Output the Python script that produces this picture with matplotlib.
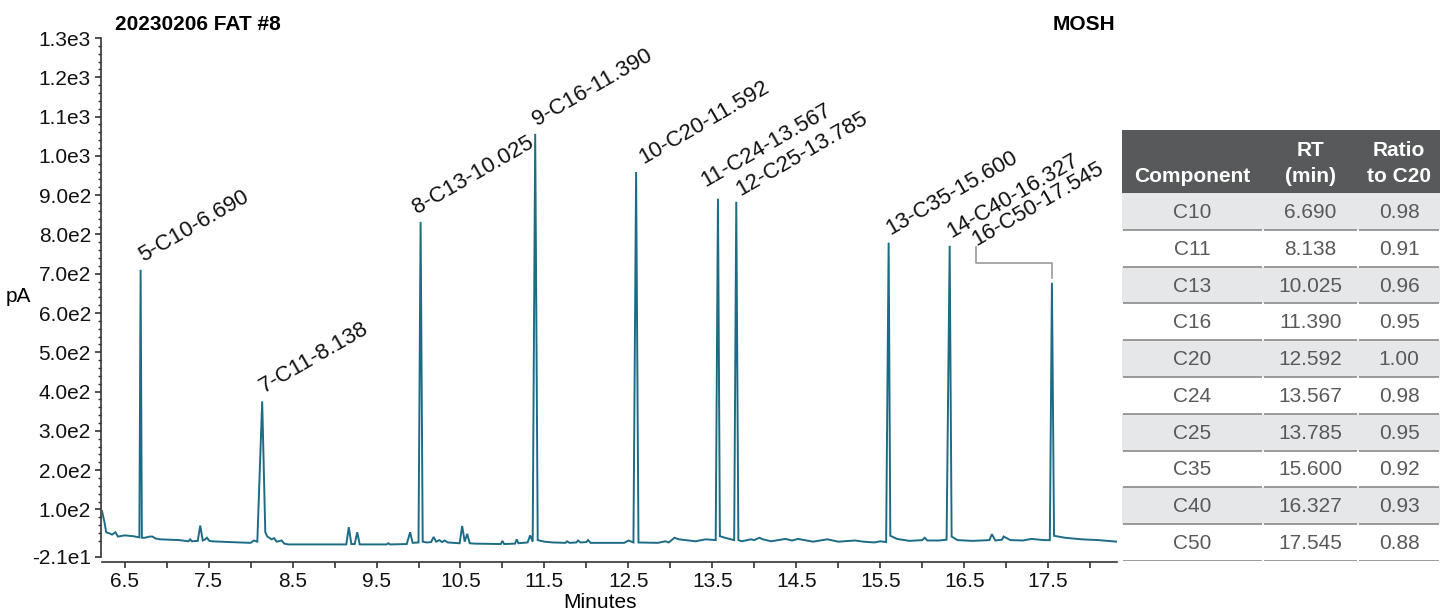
import numpy as np
import matplotlib
matplotlib.use("Agg")
import matplotlib.pyplot as plt
from matplotlib.patches import Rectangle
from matplotlib.ticker import FixedLocator, FuncFormatter

plt.rcParams['font.family'] = ['Liberation Sans', 'DejaVu Sans']

sample = "20230206 FAT #8"
fraction = "MOSH"

# labelled alkane peaks
peak_no = [5, 7, 8, 9, 10, 11, 12, 13, 14, 16]
components = ["C10", "C11", "C13", "C16", "C20", "C24", "C25", "C35", "C40", "C50"]
rt = [6.690, 8.138, 10.025, 11.390, 12.592, 13.567, 13.785, 15.600, 16.327, 17.545]
ratio_c20 = [0.98, 0.91, 0.96, 0.95, 1.00, 0.98, 0.95, 0.92, 0.93, 0.88]
peak_height = [710, 375, 832, 1056, 959, 891, 883, 779, 771, 677]
peak_labels = ["5-C10-6.690", "7-C11-8.138", "8-C13-10.025", "9-C16-11.390",
               "10-C20-11.592", "11-C24-13.567", "12-C25-13.785", "13-C35-15.600",
               "14-C40-16.327", "16-C50-17.545"]

# small unlabelled peaks (min, pA)
minor_t = [7.40, 9.17, 9.27, 9.90, 10.18, 10.52, 10.58]
minor_h = [59, 55, 42, 42, 30, 58, 38]

# baseline trace between the peaks (min, pA)
base_t = [6.23, 6.26, 6.28, 6.32, 6.35, 6.39, 6.42, 6.50, 6.60, 6.675,
          6.705, 6.74, 6.80, 6.83, 6.87, 6.92, 7.15, 7.26, 7.28, 7.30, 7.37,
          7.43, 7.46, 7.48, 7.51, 7.54, 7.75, 8.00, 8.04, 8.08,
          8.175, 8.20, 8.25, 8.28, 8.31, 8.37, 8.40, 8.45, 9.14,
          9.20, 9.24, 9.30, 9.62, 9.64, 9.66, 9.86,
          9.93, 10.00, 10.05, 10.10, 10.15,
          10.21, 10.25, 10.28, 10.31, 10.35, 10.49,
          10.55, 10.61, 10.67, 10.98, 11.00, 11.02, 11.15, 11.17, 11.19,
          11.30, 11.33, 11.36,
          11.42, 11.50, 11.60, 11.75, 11.77, 11.80, 11.88, 11.90, 11.93,
          12.00, 12.02, 12.05, 12.45, 12.50, 12.56,
          12.62, 12.85, 12.94, 12.98, 13.05, 13.10, 13.30, 13.42, 13.54,
          13.59, 13.65, 13.72, 13.76,
          13.81, 13.85, 13.96, 14.00, 14.06, 14.10, 14.20, 14.37, 14.45,
          14.52, 14.70, 14.87, 15.00, 15.20, 15.30, 15.43, 15.50, 15.57,
          15.62, 15.70, 15.85, 16.00, 16.03, 16.06, 16.20, 16.29,
          16.35, 16.42, 16.60, 16.80, 16.83, 16.87, 16.95, 16.97, 17.05,
          17.20, 17.30, 17.45, 17.52,
          17.57, 17.70, 17.90, 18.10, 18.32]
base_v = [96, 67, 42, 39, 36, 42, 31, 34, 32, 29,
          28, 28, 31, 31, 26, 24, 22, 19, 24, 19, 20,
          21, 24, 28, 20, 19, 17, 15, 21, 18,
          42, 31, 24, 27, 18, 21, 13, 11, 11,
          12, 12, 11, 11, 14, 11, 12,
          15, 16, 18, 16, 17,
          18, 22, 17, 21, 16, 14,
          18, 14, 13, 12, 20, 12, 13, 24, 14,
          16, 34, 18,
          22, 18, 16, 15, 19, 15, 16, 21, 16,
          17, 22, 15, 15, 21, 16,
          16, 15, 19, 16, 28, 24, 19, 24, 22,
          32, 28, 24, 22,
          22, 19, 24, 22, 28, 24, 19, 25, 21,
          25, 18, 24, 18, 21, 18, 16, 19, 17,
          33, 25, 20, 22, 28, 21, 21, 23,
          31, 22, 20, 22, 37, 21, 23, 31, 22,
          21, 25, 22, 22,
          33, 28, 24, 22, 18]

# assemble the chromatogram polyline
t_all = np.concatenate([base_t, minor_t, rt])
v_all = np.concatenate([base_v, minor_h, peak_height])
order = np.argsort(t_all)
t_all, v_all = t_all[order], v_all[order]

trace_color = "#1d6c86"
axis_color = "#333333"

fig = plt.figure(figsize=(14.4, 6.13), dpi=100)
ax = fig.add_axes([102 / 1440, 56 / 613, 1015 / 1440, 519 / 613])

ax.plot(t_all, v_all, color=trace_color, lw=1.4, solid_joinstyle="miter")

ax.set_xlim(6.23, 18.32)
ax.set_ylim(-21, 1300)

for side in ("top", "right"):
    ax.spines[side].set_visible(False)
ax.spines["bottom"].set_position(("outward", 3.6))
ax.spines["left"].set_position(("outward", 1.0))
for side in ("bottom", "left"):
    ax.spines[side].set_color(axis_color)
    ax.spines[side].set_linewidth(1.2)

yt = [-21] + list(range(100, 1301, 100))
ax.yaxis.set_major_locator(FixedLocator(yt))
ax.yaxis.set_minor_locator(FixedLocator([v for v in range(0, 1300, 20) if v % 100]))


def sci_fmt(v, pos):
    e = int(np.floor(np.log10(abs(v))))
    return f"{v / 10 ** e:.1f}e{e}"


ax.yaxis.set_major_formatter(FuncFormatter(sci_fmt))
ax.xaxis.set_major_locator(FixedLocator(np.arange(6.5, 18.0, 1.0)))
ax.xaxis.set_minor_locator(FixedLocator(np.arange(7.0, 18.5, 1.0)))
ax.xaxis.set_major_formatter(FuncFormatter(lambda v, p: f"{v:.1f}"))

ax.tick_params(axis="both", which="major", labelsize=15, color=axis_color,
               length=4, width=1.2, pad=3, labelcolor="#111111")
ax.tick_params(axis="y", which="minor", length=2.5, width=1, color=axis_color)
ax.tick_params(axis="x", which="minor", length=4, width=1.2, color=axis_color)

# peak annotations; a few labels are nudged so neighbours don't collide
label_off = {2: (-4, 8), 4: (7, 8), 5: (-13, 12), 6: (4, 6)}
for i, lbl in enumerate(peak_labels):
    if i == len(peak_labels) - 1:
        # last label is pulled left and tied to its peak with an elbow line
        lx, ly, elbow = 16.643, 771, 728
        ax.plot([rt[i], rt[i], lx, lx], [peak_height[i] + 11, elbow, elbow, ly - 2],
                color="#9a9a9a", lw=1.2)
        ax.text(lx, ly, lbl, rotation=30, rotation_mode="anchor",
                ha="left", va="baseline", fontsize=16, color="#111111")
    else:
        ax.annotate(lbl, (rt[i], peak_height[i]), xytext=label_off.get(i, (2, 8)),
                    textcoords="offset pixels", rotation=30,
                    rotation_mode="anchor", ha="left", va="baseline",
                    fontsize=16, color="#111111")

fig.text(115 / 1440, 1 - 24 / 613, sample, fontsize=15, fontweight="bold",
         ha="left", va="center")
fig.text(1115 / 1440, 1 - 24 / 613, fraction, fontsize=15, fontweight="bold",
         ha="right", va="center")
fig.text(18 / 1440, 1 - 296 / 613, "pA", fontsize=15, ha="center", va="center")
fig.text(600 / 1440, 1 - 603 / 613, "Minutes", fontsize=15, ha="center", va="center")

# results table
tx0, ty0, tx1, ty1 = 1122, 130, 1440, 561
tab = fig.add_axes([tx0 / 1440, 1 - ty1 / 613, (tx1 - tx0) / 1440, (ty1 - ty0) / 613])
tw, th = tx1 - tx0, ty1 - ty0
tab.set_xlim(0, tw)
tab.set_ylim(th, 0)
tab.axis("off")

col_edges = [0, 141, 236, tw]
col_mid = [(a + b) / 2 for a, b in zip(col_edges[:-1], col_edges[1:])]
head_h = 63
row_h = (th - head_h) / len(components)

tab.add_patch(Rectangle((0, 0), tw, head_h, color="#58595b", lw=0))
head_top = ["", "RT", "Ratio"]
head_bot = ["Component", "(min)", "to C20"]
for j in range(3):
    if head_top[j]:
        tab.text(col_mid[j], 20, head_top[j], color="white", fontsize=15,
                 fontweight="bold", ha="center", va="center")
    tab.text(col_mid[j], 46, head_bot[j], color="white", fontsize=15,
             fontweight="bold", ha="center", va="center")

for i, (c, r, q) in enumerate(zip(components, rt, ratio_c20)):
    y0 = head_h + i * row_h
    if i % 2 == 0:
        tab.add_patch(Rectangle((0, y0), tw, row_h, color="#e6e7e8", lw=0))
    cells = [c, f"{r:.3f}", f"{q:.2f}"]
    for j in range(3):
        tab.text(col_mid[j], y0 + row_h / 2 + 1, cells[j], color="#58595b",
                 fontsize=15, ha="center", va="center")
    for j in range(3):
        tab.plot([col_edges[j] + 1, col_edges[j + 1] - 1], [y0 + row_h] * 2,
                 color="#8a8a8a", lw=1.2, solid_capstyle="butt")

fig.savefig("out.png", dpi=100)
